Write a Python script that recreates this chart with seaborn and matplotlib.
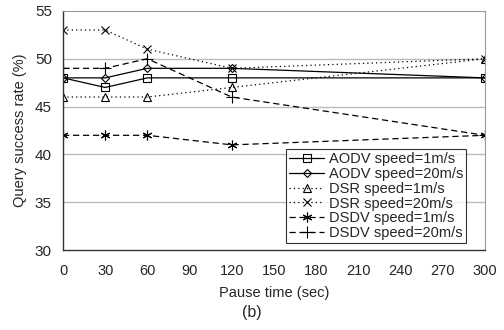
import matplotlib
matplotlib.use("Agg")
import matplotlib.pyplot as plt
import seaborn as sns
import pandas as pd

# pause time (sec)
pause = [0, 30, 60, 120, 300]

aodv_1 = [48, 47, 48, 48, 48]
aodv_20 = [48, 48, 49, 49, 48]
dsr_1 = [46, 46, 46, 47, 50]
dsr_20 = [53, 53, 51, 49, 50]
dsdv_1 = [42, 42, 42, 41, 42]
dsdv_20 = [49, 49, 50, 46, 42]

labels = ["AODV speed=1m/s", "AODV speed=20m/s", "DSR speed=1m/s",
          "DSR speed=20m/s", "DSDV speed=1m/s", "DSDV speed=20m/s"]
series = [aodv_1, aodv_20, dsr_1, dsr_20, dsdv_1, dsdv_20]

sns.set_style("white")
plt.rcParams['font.family'] = ['Liberation Sans', 'DejaVu Sans']

fig, ax = plt.subplots(figsize=(5.04, 3.30), dpi=100)
fig.subplots_adjust(left=0.125, right=0.962, top=0.967, bottom=0.242)

dot = (0, (1, 2.5))
dash = (0, (5, 3))
styles = [
    dict(marker="s", linestyle="-", ms=6),
    dict(marker="D", linestyle="-", ms=4.5),
    dict(marker="^", linestyle=dot, ms=6),
    dict(marker="x", linestyle=dot, ms=6),
    dict(marker=(6, 2, 0), linestyle=dash, ms=7),
    dict(marker="+", linestyle=dash, ms=8),
]

for lab, vals, st in zip(labels, series, styles):
    df = pd.DataFrame({"pause": pause, "rate": vals})
    sns.lineplot(data=df, x="pause", y="rate", ax=ax, color="black", lw=0.9,
                 marker=st["marker"], linestyle=st["linestyle"], markersize=st["ms"],
                 markerfacecolor="none", markeredgecolor="black", markeredgewidth=0.8,
                 label=lab)

ax.set_xlim(0, 300)
ax.set_ylim(30, 55)
ax.set_xticks(range(0, 301, 30))
ax.set_yticks(range(30, 56, 5))
for y in [35, 40, 45, 50]:
    ax.axhline(y, color="#bbbbbb", lw=1.0, zorder=0)
ax.tick_params(axis="x", direction="in", length=4, width=0.8, pad=10, labelsize=10.5)
ax.tick_params(axis="y", length=0, pad=8, labelsize=11)
for s in ["left", "bottom"]:
    ax.spines[s].set_color("#333333")
    ax.spines[s].set_linewidth(1.0)
for s in ["top", "right"]:
    ax.spines[s].set_color("#999999")
    ax.spines[s].set_linewidth(0.8)

ax.set_xlabel("Pause time (sec)", fontsize=10.5, labelpad=6)
ax.set_ylabel("Query success rate (%)", fontsize=10.5, labelpad=6)
fig.text(0.5, 0.04, "(b)", ha="center", fontsize=11.5)

leg = ax.legend(loc="lower right", bbox_to_anchor=(0.955, 0.03), fontsize=10.5,
                frameon=True, fancybox=False, borderpad=0.2, labelspacing=0.05,
                handlelength=2.4, handletextpad=0.3, borderaxespad=0)
leg.get_frame().set_edgecolor("black")
leg.get_frame().set_linewidth(0.8)

fig.savefig("out.png", dpi=100)
